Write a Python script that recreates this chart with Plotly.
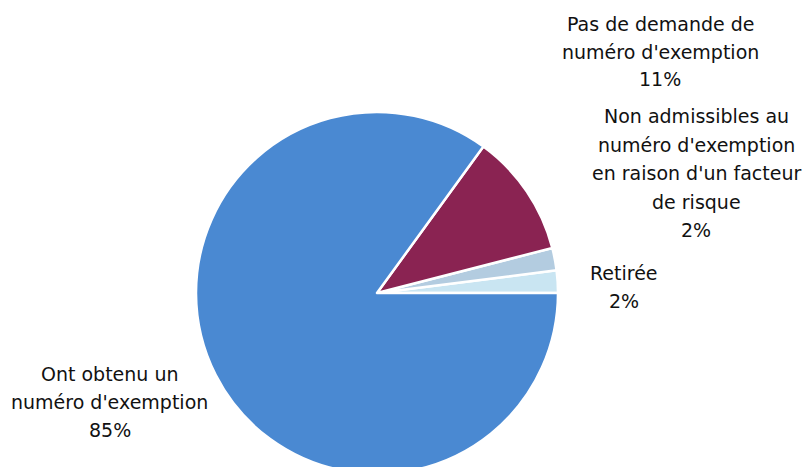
import plotly.graph_objects as go

# Data (counterclockwise from 3 o'clock)
categories = [
    "Retirée",
    "Non admissibles au numéro d'exemption en raison d'un facteur de risque",
    "Pas de demande de numéro d'exemption",
    "Ont obtenu un numéro d'exemption",
]
values = [2, 2, 11, 85]
colors = ["#c9e5f2", "#b3cce0", "#8a2352", "#4a89d2"]

# Label text blocks (one entry per line)
label_lines = [
    ["Retirée", "2%"],
    ["Non admissibles au", "numéro d'exemption", "en raison d'un facteur", "de risque", "2%"],
    ["Pas de demande de", "numéro d'exemption", "11%"],
    ["Ont obtenu un", "numéro d'exemption", "85%"],
]
# label block placement (pixels: center x, first line center y, line step)
label_pos = [(624, 273, 27.5), (696, 116, 28.5), (660, 24, 27.5), (110, 374, 28)]

W, H = 804, 480
cx, cy, r = 377, 293, 181

fig = go.Figure(go.Pie(
    labels=categories,
    values=values,
    sort=False,
    direction="counterclockwise",
    rotation=82.8,
    marker=dict(colors=colors, line=dict(color="white", width=2.5)),
    textinfo="none",
    hoverinfo="label+percent",
    showlegend=False,
    domain=dict(x=[(cx - r) / W, (cx + r) / W], y=[(H - (cy + r)) / H, (H - (cy - r)) / H]),
))

annotations = []
for lines, (px, py, step) in zip(label_lines, label_pos):
    for i, t in enumerate(lines):
        annotations.append(dict(
            text=t, x=px / W, y=1 - (py + i * step) / H, xref="paper", yref="paper",
            xanchor="center", yanchor="middle", showarrow=False,
            font=dict(family="DejaVu Sans", size=19, color="#111111"),
        ))

fig.update_layout(
    width=W, height=H,
    margin=dict(l=0, r=0, t=0, b=0),
    paper_bgcolor="white", plot_bgcolor="white",
    annotations=annotations,
)

fig.write_html(
    "out.html",
    config={"displayModeBar": False},
    post_script="document.body.style.margin='0';document.body.style.overflow='hidden';document.documentElement.style.overflow='hidden';",
)
